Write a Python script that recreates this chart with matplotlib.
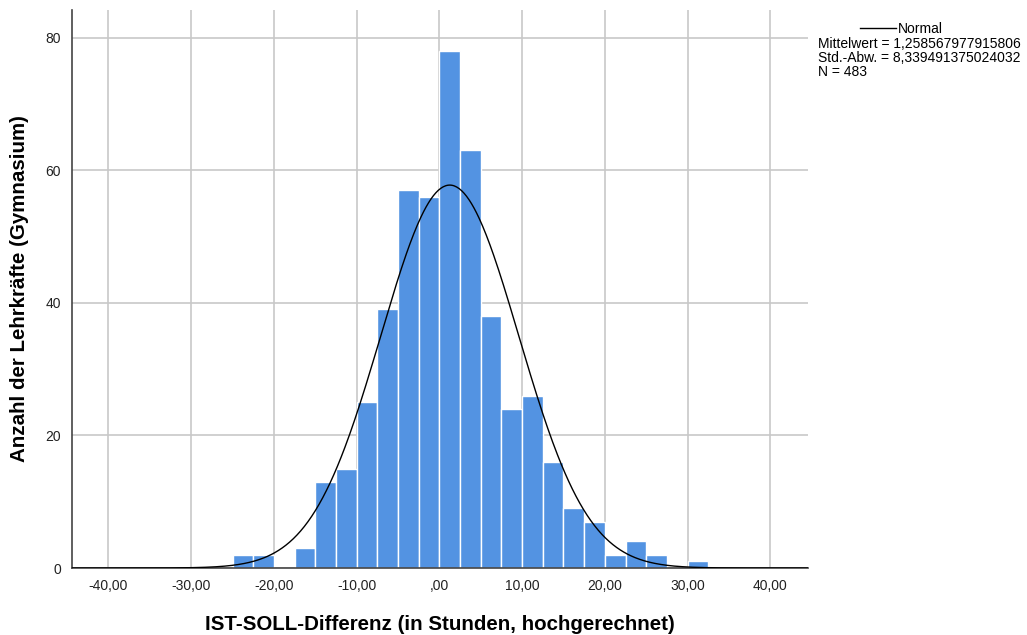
import numpy as np
import matplotlib.pyplot as plt

plt.rcParams['font.family'] = ['Liberation Sans', 'DejaVu Sans']

# histogram bins (left edges, width 2.5) and counts
bin_left = [-25.0, -22.5, -20.0, -17.5, -15.0, -12.5, -10.0, -7.5, -5.0, -2.5,
            0.0, 2.5, 5.0, 7.5, 10.0, 12.5, 15.0, 17.5, 20.0, 22.5, 25.0, 27.5, 30.0]
counts = [2, 2, 0, 3, 13, 15, 25, 39, 57, 56,
          78, 63, 38, 24, 26, 16, 9, 7, 2, 4, 2, 0, 1]
bin_width = 2.5
mean = 1.258567977915806
sd = 8.339491375024032
n = 483

xticks = [-40, -30, -20, -10, 0, 10, 20, 30, 40]
xticklabels = ['-40,00', '-30,00', '-20,00', '-10,00', ',00', '10,00', '20,00', '30,00', '40,00']
yticks = [0, 20, 40, 60, 80]

fig = plt.figure(figsize=(10.27, 6.35), dpi=100)
ax = fig.add_axes([0.0701, 0.1055, 0.717, 0.879])

ax.bar(bin_left, counts, width=bin_width, align='edge', color='#5393e2',
       edgecolor='white', linewidth=1.0, zorder=2)

xs = np.linspace(-44.4, 44.6, 600)
pdf = n * bin_width / (sd * np.sqrt(2 * np.pi)) * np.exp(-0.5 * ((xs - mean) / sd) ** 2)
ax.plot(xs, pdf, color='black', lw=1.0, zorder=3)

ax.set_xlim(-44.4, 44.6)
ax.set_ylim(0, 84.2)
ax.set_xticks(xticks)
ax.set_xticklabels(xticklabels)
ax.set_yticks(yticks)
ax.grid(color='#c8c8c8', lw=1.2, zorder=0)
ax.set_axisbelow(True)
for s in ['top', 'right']:
    ax.spines[s].set_visible(False)
for s in ['left', 'bottom']:
    ax.spines[s].set_color('#444444')
    ax.spines[s].set_linewidth(1.2)
ax.tick_params(length=0, labelsize=10, pad=8, colors='#222222')

ax.set_xlabel('IST-SOLL-Differenz (in Stunden, hochgerechnet)', fontsize=14.8,
              fontweight='bold', labelpad=16)
ax.set_ylabel('Anzahl der Lehrkräfte (Gymnasium)', fontsize=14.8,
              fontweight='bold', labelpad=12)

# legend block outside the axes
fig.lines.append(plt.Line2D([860 / 1027, 896 / 1027], [1 - 28 / 635] * 2,
                            color='black', lw=1.0, transform=fig.transFigure))
fig.text(898 / 1027, 1 - 29 / 635, 'Normal', fontsize=10, va='center')
legend_lines = ['Mittelwert = 1,258567977915806', 'Std.-Abw. = 8,339491375024032', 'N = 483']
for i, line in enumerate(legend_lines):
    fig.text(818 / 1027, 1 - (44 + 14 * i) / 635, line, fontsize=10, va='center')

fig.savefig('out.png', dpi=100)
